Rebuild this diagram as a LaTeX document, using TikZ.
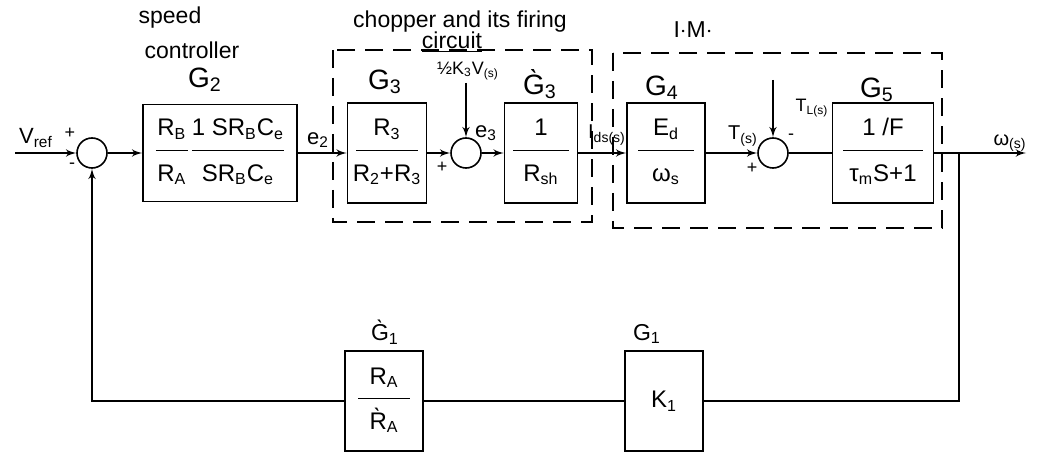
\documentclass[tikz,border=0pt]{standalone}
\usepackage{fontspec}
\setmainfont{Liberation Sans}
\usetikzlibrary{arrows}
\newcommand{\frc}[3]{\begin{tabular}{@{}c@{}}#2\\[3pt]\hline\rule{0pt}{15pt}\makebox[#1]{#3}\end{tabular}}
\newcommand{\sub}[1]{\textsubscript{#1}}

\begin{document}
\begin{tikzpicture}[x=0.5pt,y=-0.5pt,>=latex',thick,
  block/.style={draw,minimum width=39pt,minimum height=50pt,inner sep=0pt,font=\fontsize{12}{14}\selectfont},
  sum/.style={draw,circle,minimum size=15pt,inner sep=0pt},
  frame/.style={draw,dash pattern=on 9pt off 5pt},
  title/.style={font=\fontsize{11.5}{13}\selectfont},
  gain/.style={font=\fontsize{14}{16}\selectfont},
  sig/.style={font=\fontsize{9}{10}\selectfont}]
\useasboundingbox (0,0) rectangle (1049,454);
\def\ym{153}
\def\yf{401}
              %dashed frames
\draw [frame] (333,50) rectangle (592,222);
\draw [frame] (613,53) rectangle (942,228);
\node [title] (tchop) at (460,22) {chopper and its firing};
\node [title] (tcirc) at (452,42) {\underline{circuit}};
\node [title] (tim) at (693,30) {I$\cdot$M$\cdot$};
\node [title] (tspeed) at (170,18) {speed};
\node [title] (tctrl) at (192,50) {controller};
              %forward path
\node [sum] (s1) at (92,\ym) {};
\node [block,minimum width=77pt,minimum height=48.5pt] (g2) at (220,\ym)
  {\frc{16pt}{R\sub{B}}{R\sub{A}}\,\frc{40pt}{1 SR\sub{B}C\sub{e}}{SR\sub{B}C\sub{e}}};
\node [block,minimum width=39.5pt] (g3) at (387,\ym) {\frc{31pt}{R\sub{3}}{R\sub{2}+R\sub{3}}};
\node [sum] (s2) at (466,\ym) {};
\node [block,minimum width=36.5pt] (g3p) at (541,\ym) {\frc{28pt}{1}{R\sub{sh}}};
\node [block] (g4) at (666,\ym) {\frc{28pt}{E\sub{d}}{ω\sub{s}}};
\node [sum] (s3) at (773,\ym) {};
\node [block,minimum width=50.5pt] (g5) at (883,\ym) {\frc{40pt}{1 /F}{τ\sub{m}S+1}};
\coordinate (vin) at (15,\ym);
\coordinate (kin) at (466,83);
\coordinate (tlin) at (773,80);
\coordinate (br) at (959,\ym);
\coordinate (out) at (1026,\ym);
              %feedback path
\node [block] (k1) at (664,\yf) {K\sub{1}};
\node [block] (g1p) at (384,\yf) {\frc{26pt}{R\sub{A}}{\`{R}\sub{A}}};
\coordinate (fr) at (959,\yf);
\coordinate (fl) at (92,\yf);
              %gain labels
\node [gain] (lg2) at (205,80) {G\sub{2}};
\node [gain] (lg3) at (385,82) {G\sub{3}};
\node [gain] (lg3p) at (540,84) {\`{G}\sub{3}};
\node [gain] (lg4) at (662,88) {G\sub{4}};
\node [gain] (lg5) at (877,90) {G\sub{5}};
\node [title] (lg1p) at (385,332) {\`{G}\sub{1}};
\node [title] (lg1) at (647,334) {G\sub{1}};
              %signal labels
\node [sig,font=\fontsize{11}{12}\selectfont] (lvref) at (36,138) {V\sub{ref}};
\node [sig] at (70,133) {+};
\node [sig] at (72,166) {-};
\node [sig,font=\fontsize{11}{12}\selectfont] (le2) at (318,140) {e\sub{2}};
\node [sig] (lk3) at (468,71) {\textonehalf K\sub{3}V\sub{(s)}};
\node [sig] at (442,167) {+};
\node [sig,font=\fontsize{11}{12}\selectfont] (le3) at (486,133) {e\sub{3}};
\node [sig,font=\fontsize{10}{12}\selectfont] (lids) at (607,135) {I\sub{ds(s)}};
\node [sig,font=\fontsize{10}{12}\selectfont] (lt) at (743,136) {T\sub{(s)}};
\node [sig] at (752,168) {+};
\node [sig] at (791,137) {-};
\node [sig] (ltl) at (812,108) {T\sub{L(s)}};
\node [sig,font=\fontsize{10}{12}\selectfont] (lw) at (1010,143) {ω\sub{(s)}};
	   %connectors
\draw [->] (vin) -- (s1);
\draw [->] (s1) -- (g2);
\draw [->] (g2) -- (g3);
\draw [->] (g3) -- (s2);
\draw [->] (kin) -- (s2);
\draw [->] (s2) -- (g3p);
\draw [->] (g3p) -- (g4);
\draw [->] (g4) -- (s3);
\draw [->] (tlin) -- (s3);
\draw (s3) -- (g5);
\draw [->] (g5) -- (out);
\draw (br) -- (fr) -- (k1);
\draw (k1) -- (g1p);
\draw [->] (g1p) -- (fl) -- (s1);
\end{tikzpicture}
\end{document}
